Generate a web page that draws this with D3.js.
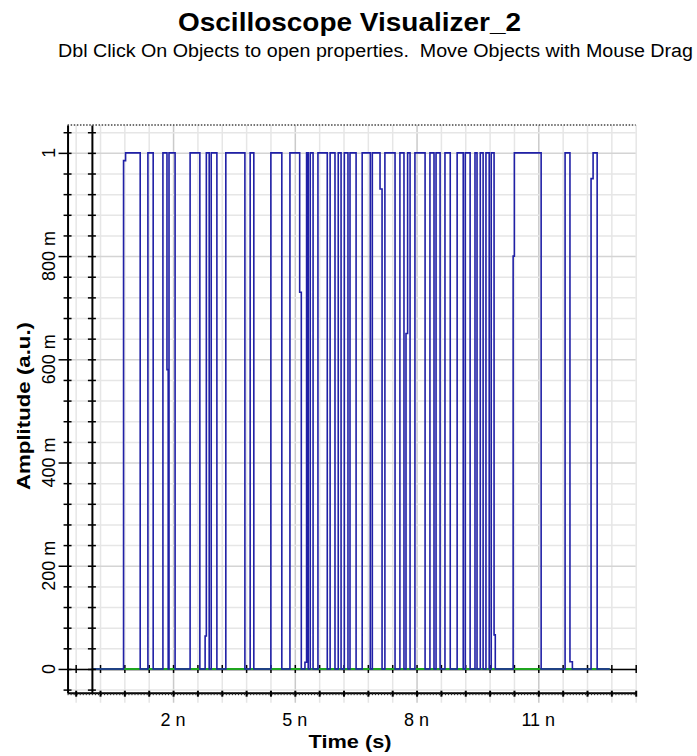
<!DOCTYPE html>
<html>
<head>
<meta charset="utf-8">
<script src="https://cdn.jsdelivr.net/npm/d3@7"></script>
<style>
  body { margin: 0; background: #fff; }
  text { font-family: "Liberation Sans", Arial, sans-serif; fill: #000; }
</style>
</head>
<body>
<script>
const title = 'Oscilloscope Visualizer_2';
const subtitle = 'Dbl Click On Objects to open properties.  Move Objects with Mouse Drag';
const xTitle = 'Time (s)';
const yTitle = 'Amplitude (a.u.)';

// time in ns, amplitude in a.u.
const xTickValues = [2, 5, 8, 11];
const xTickLabels = ['2 n', '5 n', '8 n', '11 n'];
const yTickValues = [0, 0.2, 0.4, 0.6, 0.8, 1];
const yTickLabels = ['0', '200 m', '400 m', '600 m', '800 m', '1'];

// high intervals of the blue trace (ns)
const pulseStart = [0.78, 1.38, 1.75, 1.90, 2.42, 2.79, 2.94, 3.30, 3.90, 4.41, 4.88, 5.25, 5.38, 5.57,
  5.87, 6.07, 6.22, 6.36, 6.66, 6.91, 7.22, 7.59, 7.74, 7.96, 8.33, 8.48, 8.70, 9.00, 9.20, 9.44,
  9.57, 9.71, 9.84, 10.38, 11.66, 12.30];
const pulseEnd = [1.19, 1.51, 1.85, 2.05, 2.66, 2.89, 3.08, 3.77, 3.99, 4.68, 5.12, 5.33, 5.45, 5.80,
  5.99, 6.14, 6.31, 6.51, 6.86, 7.10, 7.47, 7.69, 7.84, 8.21, 8.43, 8.58, 8.83, 9.15, 9.32, 9.49,
  9.64, 9.79, 9.91, 11.07, 11.78, 12.45];
// small steps on some edges: [time, level, width]
const edgeKinks = [[0.78, 0.985, 0.05], [1.85, 0.58, 0.03], [2.79, 0.064, 0.03], [5.12, 0.73, 0.04],
  [5.25, 0.013, 0.04], [7.10, 0.93, 0.05], [7.74, 0.65, 0.04], [9.91, 0.066, 0.03], [10.38, 0.8, 0.03],
  [11.78, 0.014, 0.06], [12.30, 0.95, 0.05]];
const traceEnd = 12.76;

const width = 697, height = 756;
const svg = d3.select('body').append('svg')
  .attr('width', width)
  .attr('height', height)
  .style('display', 'block');

const x = d3.scaleLinear().domain([-0.6, 13.4]).range([67.55, 635.7]);
const y = d3.scaleLinear().domain([-0.046, 1.054]).range([692.7, 125]);

const minorX = d3.range(-0.4, 13.41, 0.6).map(d => +d.toFixed(2));
const fineX = d3.range(-0.6, 13.41, 0.075).map(d => +d.toFixed(3));
const minorY = d3.range(-0.04, 1.041, 0.04).map(d => +d.toFixed(2));
const isMajorX = d => xTickValues.some(v => Math.abs(v - d) < 1e-6);
const isMajorY = d => yTickValues.some(v => Math.abs(v - d) < 1e-6);

// grid
const grid = svg.append('g').attr('class', 'grid');
grid.append('g')
  .attr('transform', `translate(0,${y.range()[0] + 10})`)
  .call(d3.axisBottom(x).tickValues(minorX).tickSize(-(y.range()[0] + 10 - y.range()[1])).tickFormat(''))
  .call(g => g.select('.domain').remove())
  .selectAll('line')
  .attr('stroke', d => isMajorX(d) ? '#cacaca' : '#e6e6e6')
  .attr('stroke-width', 1.5);
grid.append('g')
  .attr('transform', `translate(${x.range()[0]},0)`)
  .call(d3.axisLeft(y).tickValues(minorY).tickSize(-(x.range()[1] - x.range()[0])).tickFormat(''))
  .call(g => g.select('.domain').remove())
  .selectAll('line')
  .attr('stroke', d => isMajorY(d) ? '#d4d4d4' : '#e6e6e6')
  .attr('stroke-width', 1.5);

// top dotted border
svg.append('line')
  .attr('x1', x.range()[0]).attr('x2', x.range()[1])
  .attr('y1', y.range()[1]).attr('y2', y.range()[1])
  .attr('stroke', '#444').attr('stroke-width', 1.5)
  .attr('stroke-dasharray', '1.5,1.6');

// zero axis (horizontal, black) with crossing ticks
const zeroAxis = svg.append('g')
  .attr('transform', `translate(0,${y(0)})`)
  .call(d3.axisBottom(x).tickValues(minorX).tickSize(4).tickSizeOuter(0).tickFormat(''));
zeroAxis.select('.domain').attr('stroke', '#000').attr('stroke-width', 1.5);
zeroAxis.selectAll('.tick line').attr('y1', -4).attr('stroke-width', 1.5);

// traces
const green = [[0, 0], [traceEnd, 0]];
const findKink = t => edgeKinks.find(k => Math.abs(k[0] - t) < 0.02);
const blue = [[0, 0]];
const addEdge = (t, from, to) => {
  const k = findKink(t);
  blue.push([t, from]);
  if (k) {
    blue.push([t, k[1]], [t + k[2], k[1]], [t + k[2], to]);
  } else {
    blue.push([t, to]);
  }
};
pulseStart.forEach((s, i) => {
  addEdge(s, 0, 1);
  addEdge(pulseEnd[i], 1, 0);
});
blue.push([traceEnd, 0]);

const line = d3.line().x(d => x(d[0])).y(d => y(d[1]));
svg.append('path').datum(green)
  .attr('d', line).attr('fill', 'none')
  .attr('stroke', '#1fa51f').attr('stroke-width', 2);
svg.append('path').datum(blue)
  .attr('d', line).attr('fill', 'none')
  .attr('stroke', '#2020a6').attr('stroke-width', 1.6)
  .attr('stroke-linejoin', 'miter');

// bottom axis with dense small ticks
const bottomFine = svg.append('g')
  .attr('transform', `translate(0,${y.range()[0]})`)
  .call(d3.axisBottom(x).tickValues(fineX).tickSize(2.5).tickSizeOuter(0).tickFormat(''));
bottomFine.select('.domain').attr('stroke', '#000').attr('stroke-width', 2);
bottomFine.selectAll('.tick line').attr('stroke', '#222');
const bottomMain = svg.append('g')
  .attr('transform', `translate(0,${y.range()[0]})`)
  .call(d3.axisBottom(x).tickValues(minorX).tickSize(4).tickSizeOuter(0).tickFormat(''));
bottomMain.select('.domain').remove();
bottomMain.selectAll('.tick line').attr('y1', -2).attr('stroke-width', 2);

// x tick labels
svg.append('g').selectAll('text')
  .data(xTickValues)
  .join('text')
  .attr('x', d => x(d))
  .attr('y', 725.5)
  .attr('text-anchor', 'middle')
  .attr('font-size', 18)
  .text((d, i) => xTickLabels[i]);

// left outer axis
const leftAxis = svg.append('g')
  .attr('transform', `translate(${x.range()[0]},0)`)
  .call(d3.axisLeft(y).tickValues(minorY).tickSize(4).tickSizeOuter(0).tickFormat(''));
leftAxis.select('.domain').attr('stroke', '#000').attr('stroke-width', 2);
leftAxis.selectAll('.tick line')
  .attr('x1', 4)
  .attr('x2', d => isMajorY(d) ? -9 : -4)
  .attr('stroke-width', 1.5);

// inner vertical axis at t = 0
const innerAxis = svg.append('g')
  .attr('transform', `translate(${x(0)},0)`)
  .call(d3.axisLeft(y).tickValues(minorY).tickSize(4).tickSizeOuter(0).tickFormat(''));
innerAxis.select('.domain').attr('stroke', '#000').attr('stroke-width', 2);
innerAxis.selectAll('.tick line').attr('x1', 4).attr('stroke-width', 1.5);

// y tick labels (rotated)
svg.append('g').selectAll('text')
  .data(yTickValues)
  .join('text')
  .attr('transform', d => `translate(55,${y(d)}) rotate(-90)`)
  .attr('text-anchor', 'middle')
  .attr('font-size', 18)
  .text((d, i) => yTickLabels[i]);

// titles
svg.append('text')
  .attr('x', 349.5).attr('y', 31)
  .attr('text-anchor', 'middle')
  .attr('font-size', 26).attr('font-weight', 'bold')
  .attr('textLength', 343).attr('lengthAdjust', 'spacingAndGlyphs')
  .text(title);
svg.append('text')
  .attr('x', 58).attr('y', 57)
  .attr('font-size', 18)
  .attr('xml:space', 'preserve')
  .style('white-space', 'pre')
  .attr('textLength', 635).attr('lengthAdjust', 'spacingAndGlyphs')
  .text(subtitle);
svg.append('text')
  .attr('x', 350).attr('y', 748)
  .attr('text-anchor', 'middle')
  .attr('font-size', 18).attr('font-weight', 'bold')
  .attr('textLength', 83).attr('lengthAdjust', 'spacingAndGlyphs')
  .text(xTitle);
svg.append('text')
  .attr('transform', 'translate(30,406) rotate(-90)')
  .attr('text-anchor', 'middle')
  .attr('font-size', 18).attr('font-weight', 'bold')
  .attr('textLength', 168).attr('lengthAdjust', 'spacingAndGlyphs')
  .text(yTitle);
</script>
</body>
</html>
